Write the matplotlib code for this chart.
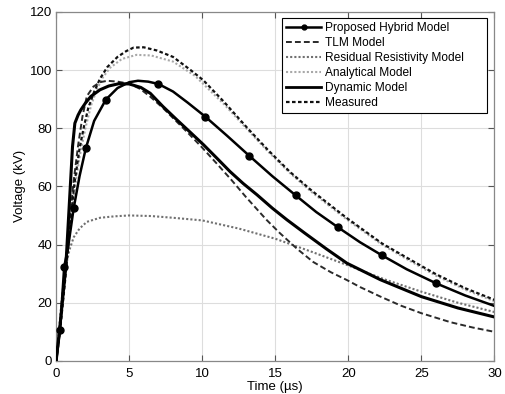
import matplotlib
matplotlib.use("Agg")
import matplotlib.pyplot as plt
from matplotlib.lines import Line2D

plt.rcParams['font.family'] = ['Liberation Sans', 'DejaVu Sans']

# ---- data ----
hyb_t = [0, 0.27, 0.55, 0.8, 1.2, 1.6, 2.03, 2.6, 3.4, 4.2, 5.0, 5.6, 6.3, 7.0, 8.0, 9.0,
         10.2, 11.7, 13.2, 14.8, 16.4, 17.8, 19.3, 20.8, 22.3, 24.0, 26.0, 28.0, 30.0]
hyb_v = [0, 10.7, 32.4, 38.5, 52.5, 63.5, 73.1, 82.5, 89.8, 93.8, 95.8, 96.3, 96.0, 95.2, 92.6, 88.8,
         84.0, 77.4, 70.6, 63.5, 56.9, 51.2, 45.9, 40.8, 36.3, 31.5, 26.7, 22.5, 18.9]
hyb_mk_t = [0.27, 0.55, 1.2, 2.03, 3.4, 7.0, 10.2, 13.2, 16.4, 19.3, 22.3, 26.0]
hyb_mk_v = [10.7, 32.4, 52.5, 73.1, 89.8, 95.2, 84.0, 70.6, 56.9, 45.9, 36.3, 26.7]

tlm_t = [0, 0.3, 0.6, 0.9, 1.2, 1.5, 1.8, 2.1, 2.55, 3.0, 3.5, 4.2, 5.0, 5.75, 6.4, 7.3, 8.0, 9.0,
         10.0, 11.0, 12.0, 13.0, 14.4, 15.3, 16.5, 17.6, 18.8, 19.9, 20.8, 22.2, 23.6, 25.0, 27.0, 28.5, 30.0]
tlm_v = [0, 14, 30, 47, 62, 74, 84, 91, 94.3, 95.8, 96.3, 96.0, 95.3, 93.5, 91.0, 87.0, 83.5, 78.5,
         73.3, 67.8, 62.2, 56.3, 48.5, 44.0, 38.5, 34.0, 30.5, 27.8, 25.4, 22.1, 19.0, 16.4, 13.3, 11.5, 10.0]

res_t = [0, 0.2, 0.4, 0.6, 0.9, 1.2, 1.6, 2.1, 3.0, 4.0, 5.0, 6.5, 8.0, 10.0, 12.5, 15.0, 16.5,
         17.5, 20.0, 22.5, 25.0, 27.5, 30.0]
res_v = [0, 11, 22, 31, 38, 42.5, 45.5, 47.8, 49.2, 49.7, 50.0, 49.8, 49.2, 48.3, 45.5, 42.0, 39.3,
         37.5, 32.8, 28.0, 23.8, 20.0, 16.8]

ana_t = [0, 0.3, 0.6, 1.0, 1.3, 1.6, 2.0, 2.4, 2.8, 3.2, 3.7, 4.5, 5.5, 6.5, 8.0, 9.5, 11.5, 13.1,
         14.5, 16.0, 17.5, 19.9, 22.3, 24.0, 26.0, 28.0, 30.0]
ana_v = [0, 13, 28, 48, 60, 70, 80, 88, 93.5, 97.5, 100.8, 103.8, 105.2, 105.0, 102.9, 98.0, 88.2, 79.5,
         72.0, 64.6, 58.0, 48.6, 40.0, 35.0, 29.3, 24.5, 20.5]

dyn_t = [0, 0.3, 0.66, 0.89, 1.12, 1.28, 1.5, 1.69, 2.0, 2.37, 3.0, 3.6, 4.3, 5.0, 5.8, 6.44, 7.3,
         8.26, 9.2, 10.09, 11.0, 11.9, 12.8, 13.75, 14.8, 15.8, 17.0, 18.5, 19.9, 22.2, 25.0, 27.5, 30.0]
dyn_v = [0, 14, 32.4, 53, 73.7, 81.7, 84.5, 86.3, 88.6, 90.9, 93.2, 94.5, 95.3, 95.2, 94.0, 92.0, 87.5,
         82.9, 78.5, 74.3, 69.7, 65.1, 61.0, 57.1, 52.5, 48.5, 44.0, 38.5, 33.6, 27.9, 22.1, 18.2, 15.1]

mea_t = [0, 0.3, 0.6, 1.0, 1.25, 1.6, 1.9, 2.2, 2.6, 3.0, 3.5, 4.2, 4.8, 5.3, 6.0, 6.9, 8.0, 9.2,
         10.07, 11.5, 13.1, 14.5, 16.0, 17.5, 19.9, 22.3, 24.0, 26.0, 28.0, 30.0]
mea_v = [0, 12, 27, 49, 61, 73, 80.5, 87, 92.5, 97, 101, 104.5, 106.5, 107.7, 107.8, 106.7, 104.5, 100.0,
         96.5, 89.0, 80.0, 72.5, 65.0, 58.5, 49.1, 40.4, 35.5, 29.8, 25.0, 21.0]

labels = ["Proposed Hybrid Model", "TLM Model", "Residual Resistivity Model",
          "Analytical Model", "Dynamic Model", "Measured"]
x_ticks = [0, 5, 10, 15, 20, 25, 30]
y_ticks = [0, 20, 40, 60, 80, 100, 120]

fig = plt.figure(figsize=(5.06, 3.94), dpi=100)
ax = fig.add_axes([0.111, 0.084, 0.866, 0.886])

ax.plot(hyb_t, hyb_v, color='black', lw=1.8, zorder=6)
ax.plot(hyb_mk_t, hyb_mk_v, 'o', color='black', ms=5, zorder=7)
ax.plot(tlm_t, tlm_v, color='#2a2a2a', lw=1.4, linestyle=(0, (3.0, 1.6)), zorder=4)
ax.plot(res_t, res_v, color='#707070', lw=1.5, linestyle=(0, (1, 1)), zorder=3)
ax.plot(ana_t, ana_v, color='#a8a8a8', lw=1.5, linestyle=(0, (1, 1)), zorder=3)
ax.plot(dyn_t, dyn_v, color='black', lw=2.2, zorder=5)
ax.plot(mea_t, mea_v, color='#111111', lw=1.6, linestyle=(0, (1.6, 1.1)), zorder=4)

handles = [
    Line2D([0, 0.5, 1], [0, 0, 0], color='black', lw=1.8, marker='o', ms=3.5, markevery=[1]),
    Line2D([], [], color='#2a2a2a', lw=1.4, linestyle=(0, (3.0, 1.6))),
    Line2D([], [], color='#707070', lw=1.5, linestyle=(0, (1, 1))),
    Line2D([], [], color='#a8a8a8', lw=1.5, linestyle=(0, (1, 1))),
    Line2D([], [], color='black', lw=2.0),
    Line2D([], [], color='#111111', lw=1.6, linestyle=(0, (1.6, 1.1))),
]
leg = ax.legend(handles, labels, loc='upper left', mode='expand',
                bbox_to_anchor=(0.516, 0.0, 0.468, 0.983), borderaxespad=0,
                fontsize=8.6, frameon=True, fancybox=False,
                framealpha=1, edgecolor='black', handlelength=2.9, handletextpad=0.3,
                borderpad=0.35, labelspacing=0.25)
leg.get_frame().set_linewidth(0.8)

ax.set_xlim(0, 30)
ax.set_ylim(0, 120)
ax.set_xticks(x_ticks)
ax.set_yticks(y_ticks)
ax.grid(True, color='#dddddd', lw=0.8)
ax.set_axisbelow(True)
ax.tick_params(direction='in', top=True, right=True, labelsize=9.5, length=4, color='#555555')
ax.tick_params(axis='x', pad=5)
ax.tick_params(axis='y', pad=3)
for s in ax.spines.values():
    s.set_color('#888888')
    s.set_linewidth(0.9)
ax.set_xlabel('Time (µs)', fontsize=9.5, labelpad=1)
ax.set_ylabel('Voltage (kV)', fontsize=9.5, labelpad=3)

fig.savefig('out.png', dpi=100)
